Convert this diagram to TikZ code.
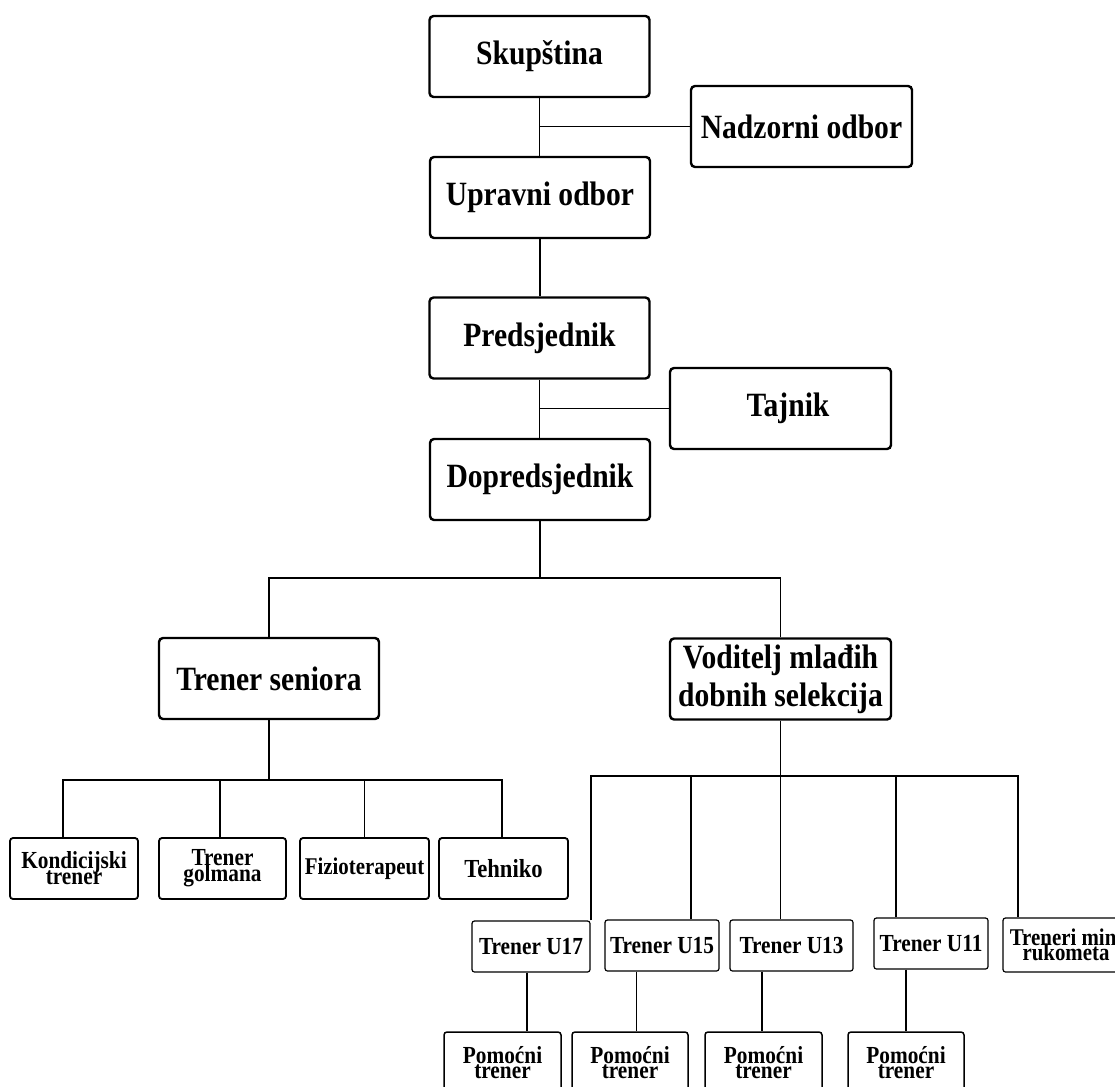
\documentclass[tikz,border=0pt]{standalone}
\usepackage{fontspec}
\setmainfont{Liberation Serif}[FakeStretch=0.87]
\newcommand\tightlines{\lineskiplimit=-50pt\relax\lineskip=0pt\relax}
\begin{document}
\begin{tikzpicture}[x=1pt,y=-1pt,
  base/.style={draw, inner sep=0pt, align=center},
  big/.style={base, line width=2.4pt, rounded corners=4pt, minimum width=220pt, minimum height=81pt,
    font=\bfseries\fontsize{34}{38}\selectfont},
  mid/.style={base, line width=1.8pt, rounded corners=3pt, minimum width=128pt, minimum height=61pt,
    font=\bfseries\fontsize{24.5}{16}\selectfont\tightlines},
  sml/.style={base, line width=1.2pt, rounded corners=2.5pt, minimum height=51pt,
    font=\bfseries\fontsize{24.5}{15}\selectfont\tightlines},
  pom/.style={base, line width=1.5pt, rounded corners=3pt, minimum height=62pt,
    font=\bfseries\fontsize{24.5}{15}\selectfont\tightlines},
  conn/.style={line width=1.8pt}
]
\useasboundingbox (0,0) rectangle (1115,1086);
\fill[white] (0,0) rectangle (1115,1086);
\clip (0,0) rectangle (1115,1086);

% top column
\node[big] (sk) at (539.5,56.5) {Skupština};
\node[big, minimum width=221pt] (nz) at (801.5,126.5) {Nadzorni odbor};
\node[big] (up) at (540,197.5) {Upravni odbor};
\node[big] (pr) at (539.5,338) {Predsjednik};
\node[big, minimum width=221pt] (tj) at (780.5,408.5) {\hspace*{15pt}Tajnik};
\node[big] (dp) at (540,479.5) {Dopredsjednik};

% second level
\node[big] (ts) at (269,678.5) {Trener seniora};
\node[big, minimum width=221pt] (vd) at (780.5,679) {Voditelj mlađih\\dobnih selekcija};

% senior staff
\node[mid] (kt) at (74,868.5) {Kondicijski\\trener};
\node[mid, minimum width=127pt] (tg) at (222.5,868.5) {Trener\\golmana};
\node[mid, minimum width=129pt, font=\bfseries\fontsize{24}{16}\selectfont] (fz) at (364.5,868.5) {Fizioterapeut};
\node[mid, minimum width=129pt, font=\bfseries\fontsize{26}{16}\selectfont] (te) at (503.5,868.5) {Tehniko};

% youth coaches
\node[sml, minimum width=118pt] (u17) at (531,946.5) {Trener U17};
\node[sml, minimum width=114pt] (u15) at (662,945.5) {Trener U15};
\node[sml, minimum width=123pt] (u13) at (791.5,945.5) {Trener U13};
\node[sml, minimum width=114pt] (u11) at (931,943.5) {Trener U11};
\node[sml, minimum width=126pt, minimum height=54pt, font=\bfseries\fontsize{24}{15}\selectfont\tightlines] (tm) at (1066,945) {Treneri mini\\rukometa};

% assistants
\node[pom, minimum width=117pt] (p1) at (502.5,1063) {Pomoćni\\trener};
\node[pom, minimum width=116pt] (p2) at (630,1063) {Pomoćni\\trener};
\node[pom, minimum width=117pt] (p3) at (763.5,1063) {Pomoćni\\trener};
\node[pom, minimum width=116pt] (p4) at (906,1063) {Pomoćni\\trener};

% junction points
\coordinate (j1) at (540,578);
\coordinate (j2) at (267,780);
\coordinate (j3) at (781,776);

% connectors: top column
\draw[conn] (sk.south) -- (sk.south |- up.north);
\draw[conn] (up.south) -- (up.south |- pr.north);
\draw[conn] (pr.south) -- (pr.south |- dp.north);
\draw[conn] (sk.south |- nz.west) -- (nz.west);
\draw[conn] (pr.south |- tj.west) -- (tj.west);

% connectors: second level
\draw[conn] (dp.south) -- (j1);
\draw[conn] (ts.north) -- (ts.north |- j1) -- (vd.north |- j1) -- (vd.north);

% connectors: senior staff
\draw[conn] (ts.south) -- (ts.south |- j2);
\draw[conn] ([xshift=-11pt]kt.north) |- ([xshift=-1.5pt]te.north |- j2) -- ([xshift=-1.5pt]te.north);
\draw[conn] ([xshift=-2.5pt]tg.north) -- ([xshift=-2.5pt]tg.north |- j2);
\draw[conn] (fz.north) -- (fz.north |- j2);

% connectors: youth coaches
\draw[conn] (vd.south) -- (vd.south |- u13.north);
\draw[conn] (u17.north east) |- ([xshift=-48pt]tm.north |- j3) -- ([xshift=-48pt]tm.north);
\draw[conn] ([xshift=29pt]u15.north) -- ([xshift=29pt]u15.north |- j3);
\draw[conn] ([xshift=-35pt]u11.north) -- ([xshift=-35pt]u11.north |- j3);

% connectors: assistants
\draw[conn] ([xshift=-4pt]u17.south) -- ([xshift=-4pt]u17.south |- p1.north);
\draw[conn] ([xshift=-25.5pt]u15.south) -- ([xshift=-25.5pt]u15.south |- p2.north);
\draw[conn] ([xshift=-1.5pt]p3.north |- u13.south) -- ([xshift=-1.5pt]p3.north);
\draw[conn] (p4.north |- u11.south) -- (p4.north);
\end{tikzpicture}
\end{document}
